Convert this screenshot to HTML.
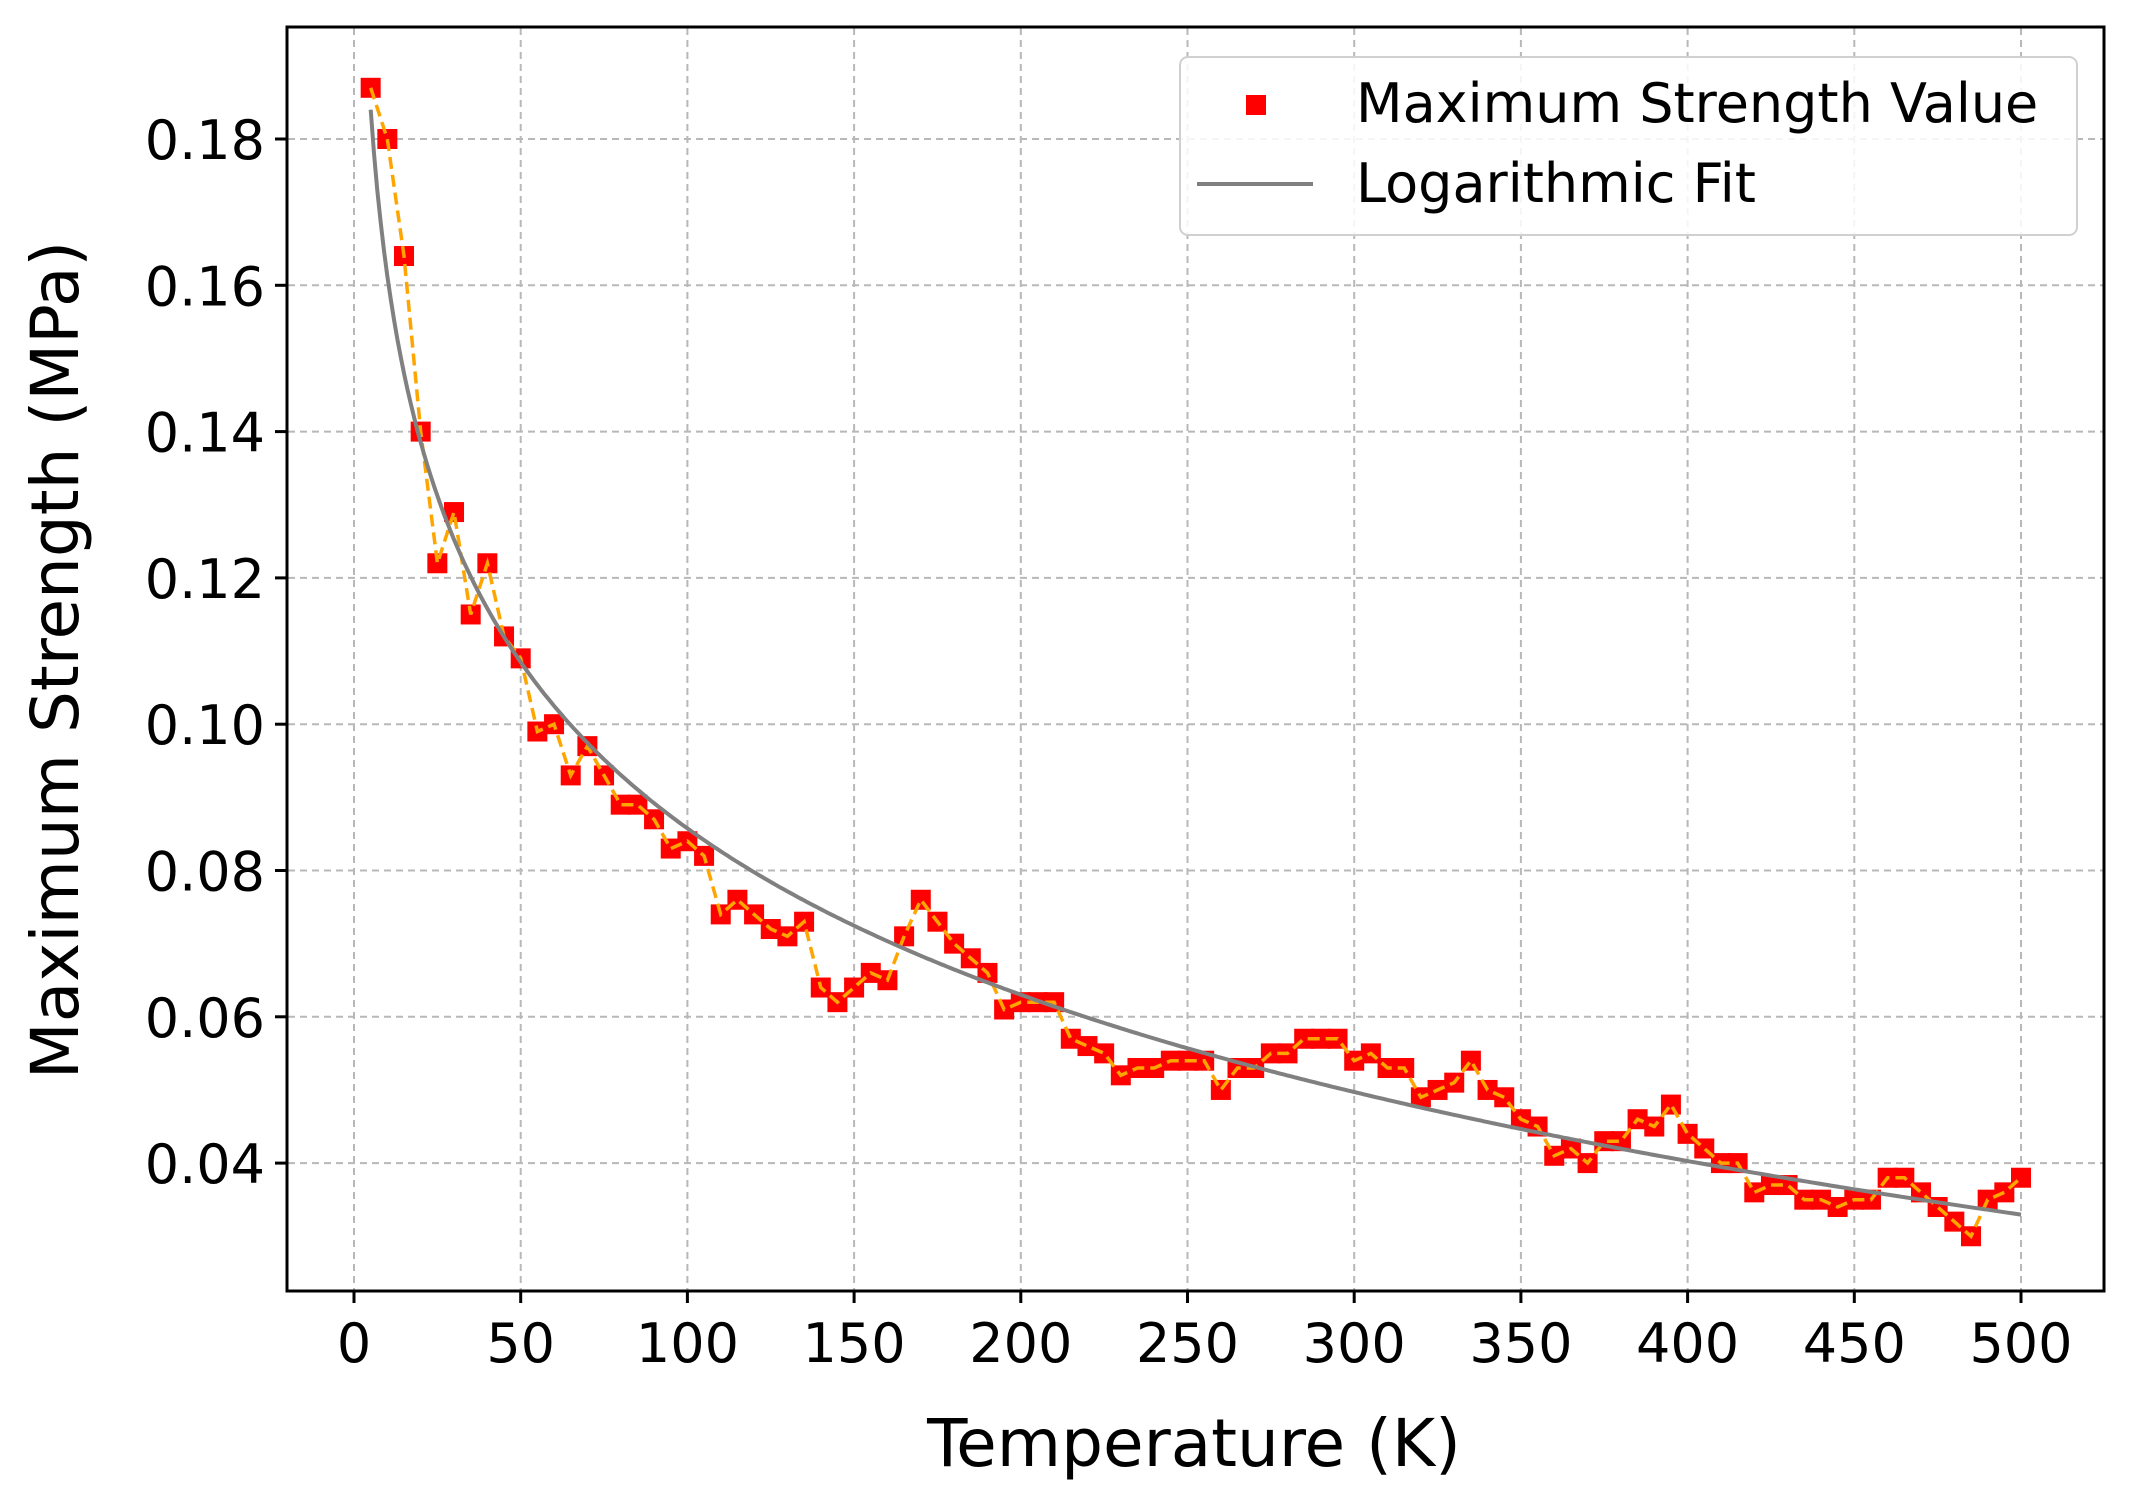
<!DOCTYPE html>
<html><head><meta charset="utf-8"><style>
html,body{margin:0;padding:0;background:#fff;}
svg{display:block;font-family:"DejaVu Sans","Liberation Sans",sans-serif;}
</style></head><body>
<svg id="s" width="2133" height="1498" viewBox="0 0 2133 1498" xmlns="http://www.w3.org/2000/svg">
<rect width="2133" height="1498" fill="#fff"/>
<g id="grid"></g>
<g id="data"></g>
<rect x="287" y="27" width="1817" height="1264" fill="none" stroke="#000" stroke-width="3"/>
<g id="ticks" font-size="54" fill="#000"></g>
<text x="1194" y="1466" font-size="66" text-anchor="middle">Temperature (K)</text>
<text transform="translate(78,660) rotate(-90)" font-size="66" text-anchor="middle">Maximum Strength (MPa)</text>
<rect x="1180" y="57" width="897" height="178" rx="8" fill="#fff" fill-opacity="0.85" stroke="#d0d0d0" stroke-width="2"/>
<rect x="1246" y="95" width="20" height="20" fill="#ff0000"/>
<text x="1356" y="122" font-size="54">Maximum Strength Value</text>
<line x1="1197" y1="184" x2="1313" y2="184" stroke="#808080" stroke-width="4"/>
<text x="1356" y="202" font-size="54">Logarithmic Fit</text>
</svg>
<script>
var NS="http://www.w3.org/2000/svg";
function X(t){return 354+t/50*166.7;}
function Y(v){return 139+(0.18-v)/0.02*146.3;}
function el(p,n,a,txt){var e=document.createElementNS(NS,n);for(var k in a)e.setAttribute(k,a[k]);if(txt!==undefined)e.textContent=txt;document.getElementById(p).appendChild(e);return e;}
for(var t=0;t<=500;t+=50){var x=X(t);
el("grid","line",{x1:x,y1:28,x2:x,y2:1290,stroke:"#b8b8b8","stroke-width":2,"stroke-dasharray":"7,5"});
el("ticks","line",{x1:x,y1:1291,x2:x,y2:1303,stroke:"#000","stroke-width":3});
el("ticks","text",{x:x,y:1362,"text-anchor":"middle"},String(t));}
for(var i=2;i<=9;i++){var v=i*0.02;var y=Y(v);
el("grid","line",{x1:288,y1:y,x2:2103,y2:y,stroke:"#b8b8b8","stroke-width":2,"stroke-dasharray":"7,5"});
el("ticks","line",{x1:275,y1:y,x2:287,y2:y,stroke:"#000","stroke-width":3});
el("ticks","text",{x:265,y:y+20,"text-anchor":"end"},v.toFixed(2));}
var d=[0.187,0.180,0.164,0.140,0.122,0.129,0.115,0.122,0.112,0.109,0.099,0.100,0.093,0.097,0.093,0.089,0.089,0.087,0.083,0.084,0.082,0.074,0.076,0.074,0.072,0.071,0.073,0.064,0.062,0.064,0.066,0.065,0.071,0.076,0.073,0.070,0.068,0.066,0.061,0.062,0.062,0.062,0.057,0.056,0.055,0.052,0.053,0.053,0.054,0.054,0.054,0.050,0.053,0.053,0.055,0.055,0.057,0.057,0.057,0.054,0.055,0.053,0.053,0.049,0.050,0.051,0.054,0.050,0.049,0.046,0.045,0.041,0.042,0.040,0.043,0.043,0.046,0.045,0.048,0.044,0.042,0.040,0.040,0.036,0.037,0.037,0.035,0.035,0.034,0.035,0.035,0.038,0.038,0.036,0.034,0.032,0.030,0.035,0.036,0.038];
for(var i=0;i<d.length;i++){var t=5*(i+1);el("data","rect",{x:X(t)-10,y:Y(d[i])-10,width:20,height:20,fill:"#ff0000"});}
var p="";for(var i=0;i<d.length;i++){p+=(i?"L":"M")+X(5*(i+1)).toFixed(1)+","+Y(d[i]).toFixed(1);}
el("data","path",{d:p,fill:"none",stroke:"#ffa500","stroke-width":3.5,"stroke-dasharray":"12,6"});
var q="";for(var t=5;t<=500;t+=1){var v=0.2368-0.0328*Math.log(t);q+=(t>5?"L":"M")+X(t).toFixed(1)+","+Y(v).toFixed(1);}
el("data","path",{d:q,fill:"none",stroke:"#808080","stroke-width":4});
</script>
</body></html>
